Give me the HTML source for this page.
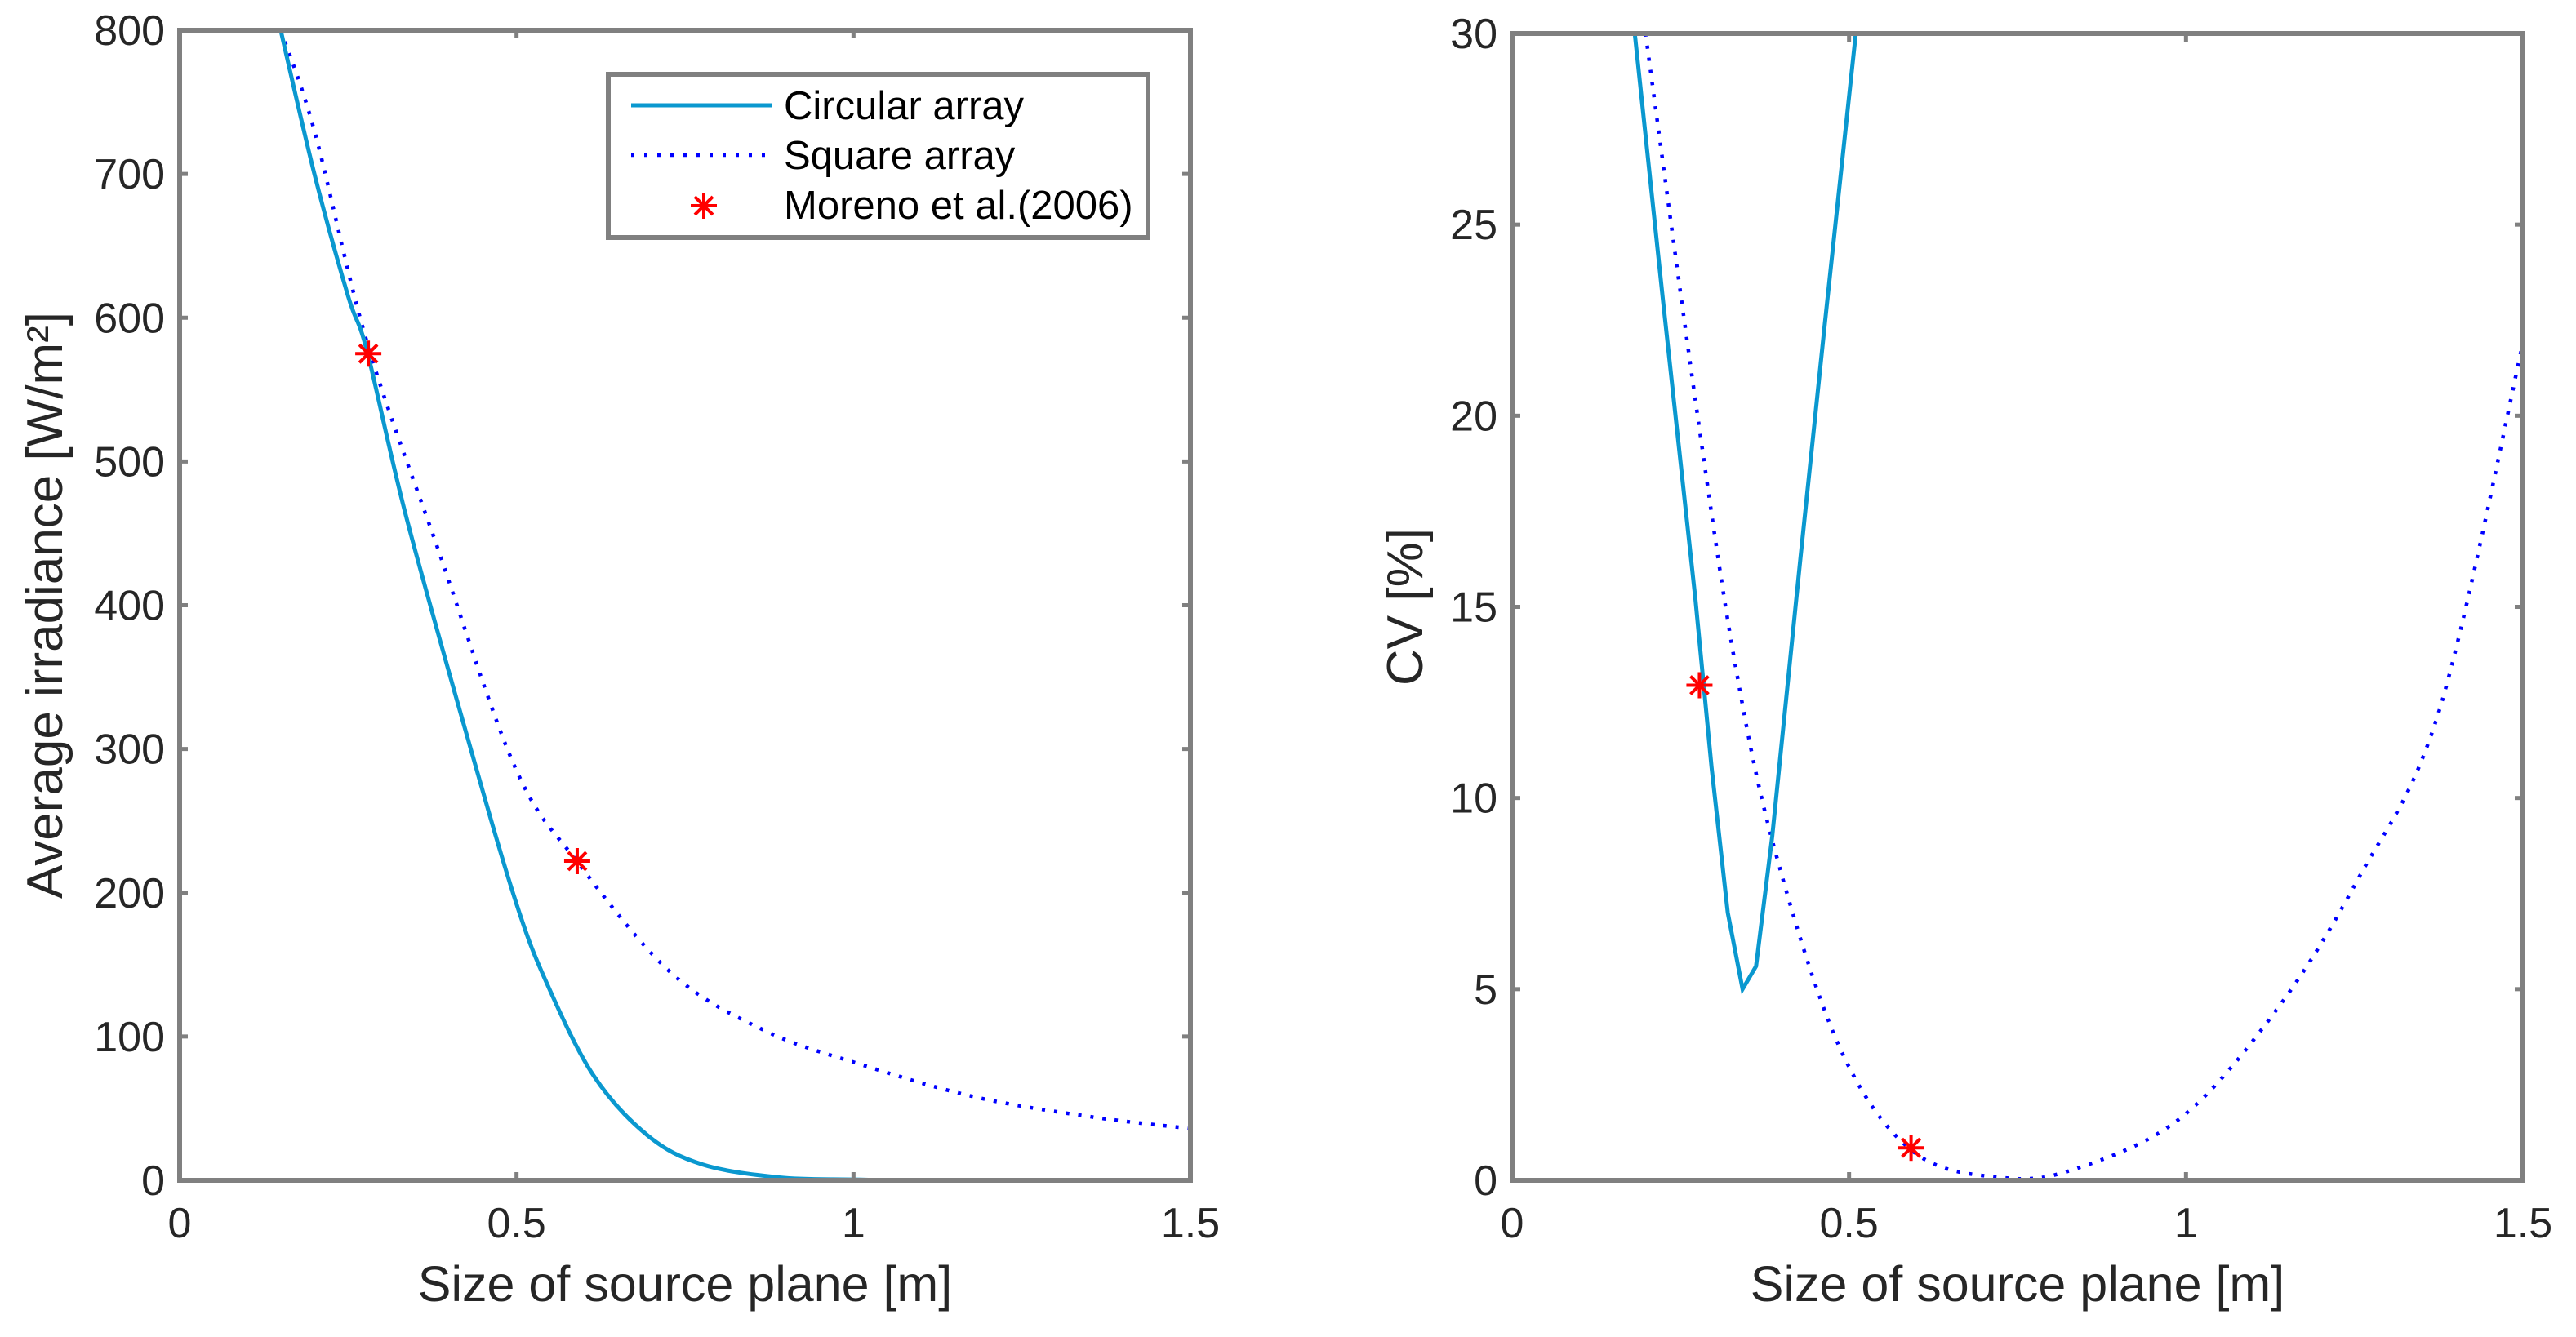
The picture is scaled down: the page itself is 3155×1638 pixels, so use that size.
<!DOCTYPE html>
<html><head><meta charset="utf-8"><style>
html,body{margin:0;padding:0;background:#fff;}
svg{display:block;font-family:"Liberation Sans",sans-serif;}
</style></head><body>
<svg id="fig" width="3155" height="1638" viewBox="0 0 3155 1638" xmlns="http://www.w3.org/2000/svg">
<g id="pL"></g>
<g id="pR"></g>
</svg>
<script>
// Left chart data
const irrCircX = [0.15,0.2,0.25,0.278,0.336,0.429,0.498,0.544,0.614,0.695,0.776,0.89,1.0,1.1,1.3,1.5];
const irrCircY = [800,700,615,577,462,305,195,138,73,31,11,2,0.5,0,0,0];
const irrSqX = [0.15,0.2,0.278,0.382,0.498,0.591,0.73,0.869,1.008,1.18,1.355,1.5];
const irrSqY = [800,730,583,441,287,221,144,104,81,58,44,36];
const irrRefX = [0.28,0.59];
const irrRefY = [575,222];
const irrYTicks = [0,100,200,300,400,500,600,700,800];
const xTicks = [0,0.5,1,1.5];
const xTickLabels = ["0","0.5","1","1.5"];
// Right chart data
const cvCircX = [0.182,0.224,0.272,0.296,0.32,0.342,0.362,0.386,0.428,0.464,0.51];
const cvCircY = [30,23.0,15.2,10.8,7.0,5.0,5.6,9.0,16.3,22.4,30];
const cvSqX = [0.198,0.272,0.332,0.392,0.488,0.596,0.728,0.836,0.992,1.136,1.256,1.376,1.5];
const cvSqY = [30,20.4,13.4,8.5,3.4,0.74,0.07,0.3,1.63,4.5,7.9,12.3,21.9];
const cvRefX = [0.278,0.592];
const cvRefY = [12.95,0.85];
const cvYTicks = [0,5,10,15,20,25,30];

const NS="http://www.w3.org/2000/svg";
function mk(parent,tag,attrs,text){const e=document.createElementNS(NS,tag);for(const k in attrs)e.setAttribute(k,attrs[k]);if(text!==undefined)e.textContent=text;parent.appendChild(e);return e;}
function smooth(pts){let d="M"+pts[0][0]+","+pts[0][1];for(let i=0;i<pts.length-1;i++){const p0=pts[i-1]||pts[i],p1=pts[i],p2=pts[i+1],p3=pts[i+2]||p2;const c1=[p1[0]+(p2[0]-p0[0])/6,p1[1]+(p2[1]-p0[1])/6],c2=[p2[0]-(p3[0]-p1[0])/6,p2[1]-(p3[1]-p1[1])/6];d+=" C"+c1+" "+c2+" "+p2;}return d;}
function star(g,x,y,name){const s=mk(g,"g",{stroke:"#ff0000","stroke-width":4});const r=16,q=11;mk(s,"line",{x1:x-r,y1:y,x2:x+r,y2:y});mk(s,"line",{x1:x,y1:y-r,x2:x,y2:y+r});mk(s,"line",{x1:x-q,y1:y-q,x2:x+q,y2:y+q});mk(s,"line",{x1:x-q,y1:y+q,x2:x+q,y2:y-q});}

function chart(g,o){
  const X=v=>o.x0+(o.x1-o.x0)*v/1.5, Y=v=>o.yb+(o.yt-o.yb)*v/o.ymax;
  const clip="c"+o.id;
  const cp=mk(mk(g,"defs",{}),"clipPath",{id:clip});mk(cp,"rect",{x:o.x0,y:o.yt,width:o.x1-o.x0,height:o.yb-o.yt});
  const sq=mk(g,"path",{d:smooth(o.sqX.map((v,i)=>[X(v),Y(o.sqY[i])])),fill:"none",stroke:"#0000ff","stroke-width":4.5,"stroke-dasharray":"4 11","clip-path":`url(#${clip})`});
  
  const cpts=o.cX.map((v,i)=>[X(v),Y(o.cY[i])]);
  const ci=mk(g,"path",{d:o.sharp?("M"+cpts.join(" L")):smooth(cpts),fill:"none",stroke:"#0a98cf","stroke-width":5,"clip-path":`url(#${clip})`});
  
  o.rX.forEach((v,i)=>star(g,X(v),Y(o.rY[i]),'moreno-point'));
  const box=mk(g,"rect",{x:o.x0,y:o.yt,width:o.x1-o.x0,height:o.yb-o.yt,fill:"none",stroke:"#808080","stroke-width":6});
  
  o.yTicks.forEach(v=>{const y=Y(v);
    mk(g,"line",{x1:o.x0,y1:y,x2:o.x0+10,y2:y,stroke:"#808080","stroke-width":5});
    mk(g,"line",{x1:o.x1,y1:y,x2:o.x1-10,y2:y,stroke:"#808080","stroke-width":5});
    const t=mk(g,"text",{x:o.x0-18,y:y+18,"text-anchor":"end","font-size":52,fill:"#262626"},String(v));
    });
  xTicks.forEach((v,i)=>{const x=X(v);
    mk(g,"line",{x1:x,y1:o.yb,x2:x,y2:o.yb-10,stroke:"#808080","stroke-width":5});
    mk(g,"line",{x1:x,y1:o.yt,x2:x,y2:o.yt+10,stroke:"#808080","stroke-width":5});
    const t=mk(g,"text",{x:x,y:o.yb+70,"text-anchor":"middle","font-size":52,fill:"#262626"},xTickLabels[i]);
    });
  const xl=mk(g,"text",{x:(o.x0+o.x1)/2,y:1594,"text-anchor":"middle","font-size":61,fill:"#262626"},"Size of source plane [m]");
  
  const yl=mk(g,"text",{x:0,y:0,"text-anchor":"middle","font-size":62,fill:"#262626",transform:`translate(${o.ylx},${(o.yt+o.yb)/2}) rotate(-90)`},o.ylabel);
  
}
chart(document.getElementById("pL"),{id:"L",x0:220,x1:1458,yt:37,yb:1446,ymax:800,cX:irrCircX,cY:irrCircY,sqX:irrSqX,sqY:irrSqY,rX:irrRefX,rY:irrRefY,yTicks:irrYTicks,ylabel:"Average irradiance [W/m²]",ylx:76,sharp:false});
chart(document.getElementById("pR"),{id:"R",x0:1852,x1:3090,yt:41,yb:1446,ymax:30,cX:cvCircX,cY:cvCircY,sqX:cvSqX,sqY:cvSqY,rX:cvRefX,rY:cvRefY,yTicks:cvYTicks,ylabel:"CV [%]",ylx:1742,sharp:true});

const pL=document.getElementById("pL");
const lg=mk(pL,"g",{});

mk(lg,"rect",{x:745,y:91,width:661,height:200,fill:"#fff",stroke:"#808080","stroke-width":6});
mk(lg,"line",{x1:773,y1:129,x2:945,y2:129,stroke:"#0a98cf","stroke-width":5});
mk(lg,"line",{x1:773,y1:190,x2:945,y2:190,stroke:"#0000ff","stroke-width":4.5,"stroke-dasharray":"4 12"});
star(lg,862,252,'legend-star');
const lt=[["Circular array",146],["Square array",207],["Moreno et al.(2006)",268]];
lt.forEach(a=>{const t=mk(lg,"text",{x:960,y:a[1],"font-size":49,fill:"#000"},a[0]);});
</script>
</body></html>
